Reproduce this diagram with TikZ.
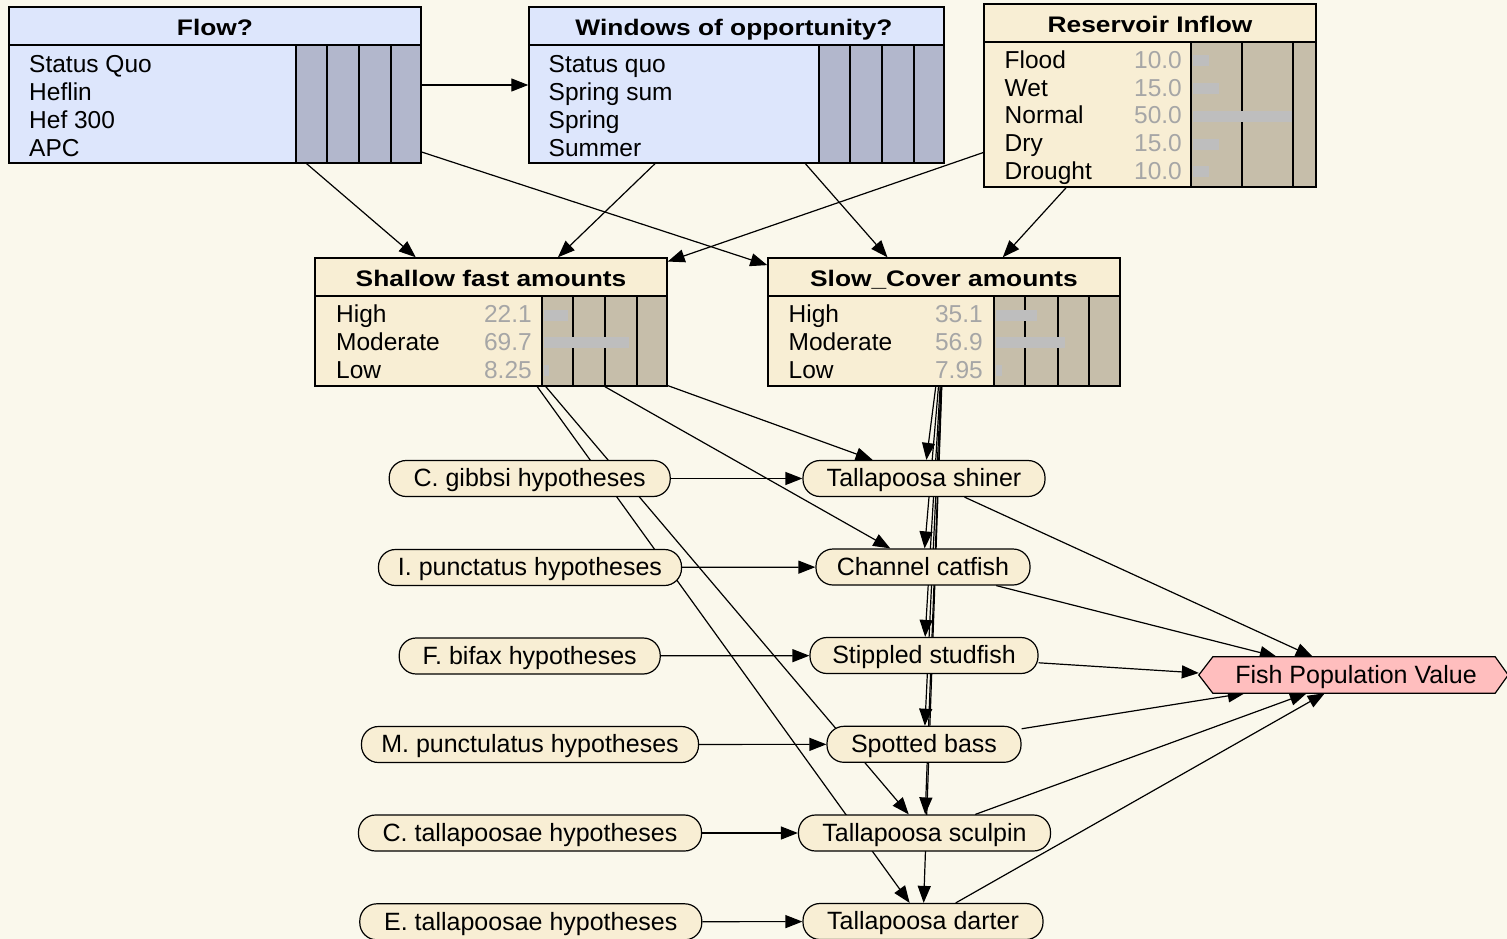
\documentclass[tikz,border=0pt]{standalone}
\usepackage{fontspec}
\setmainfont{Liberation Sans}
\newfontfamily\ttlfont[FakeStretch=1.17]{Liberation Sans}
\usetikzlibrary{arrows.meta,fit,backgrounds,calc}

\definecolor{bgc}{RGB}{250,248,236}
\definecolor{bluefill}{RGB}{221,230,252}
\definecolor{bluebar}{RGB}{178,183,204}
\definecolor{creamfill}{RGB}{248,238,212}
\definecolor{tanbar}{RGB}{198,190,170}
\definecolor{barc}{RGB}{190,190,190}
\definecolor{valc}{RGB}{166,166,166}
\definecolor{pinkfill}{RGB}{255,190,190}

% probability box: name, x1, y1, x2, y2, title rule y, bar area x, fill, bar fill
\newcommand\probbox[9]{%
  \node[boxnode, fill=#8, fit={(#2,#3) (#4,#5)}] (#1) {};
  \fill[#9] (#7,#6) rectangle (#4,#5);
  \draw[rule] (#2,#6) -- (#4,#6);
  \draw[rule] (#7,#6) -- (#7,#5);
  \draw[boxline] (#2,#3) rectangle (#4,#5);
}

\begin{document}
\begin{tikzpicture}[x=1pt,y=-1pt,
  boxnode/.style={draw, line width=1.4pt, inner sep=0pt, rectangle},
  boxline/.style={draw, line width=1.4pt},
  rule/.style={line width=1.2pt},
  lbl/.style={anchor=base west, inner sep=0pt, font=\fontsize{24.5}{28}\selectfont},
  val/.style={anchor=base east, inner sep=0pt, text=valc, font=\fontsize{24.5}{28}\selectfont},
  ttl/.style={anchor=base, inner sep=0pt, font=\ttlfont\bfseries\fontsize{22.5}{26}\selectfont},
  pill/.style={draw, line width=1.2pt, fill=creamfill, rounded corners=17pt,
    minimum height=36pt, inner sep=0pt, text height=18pt, text depth=1.4pt,
    font=\fontsize{25}{28}\selectfont},
  link/.style={draw, line width=1.2pt, -{Triangle[length=17pt,width=13pt]}},
  bar/.style={fill=barc}]

\begin{scope}[on background layer]
  \fill[bgc] (0,0) rectangle (1507,939);
\end{scope}
\useasboundingbox (0,0) rectangle (1507,939);

% ---------- decision boxes ----------
\probbox{flow}{9}{7}{421}{163}{45}{296}{bluefill}{bluebar}
\foreach \gx in {327,359,391} \draw[rule] (\gx,45) -- (\gx,163);
\node[ttl] (flowt) at (215,36) {Flow?};
\foreach \t [count=\i] in {Status Quo,Heflin,Hef 300,APC}
  \node[lbl] (flowl\i) at (29,{72.7+27.8*(\i-1)}) {\t};

\probbox{win}{529}{7}{944}{163}{45}{819}{bluefill}{bluebar}
\foreach \gx in {850,882,914} \draw[rule] (\gx,45) -- (\gx,163);
\node[ttl] (wint) at (734,36) {Windows of opportunity?};
\foreach \t [count=\i] in {Status quo,Spring sum,Spring,Summer}
  \node[lbl] (winl\i) at (548.5,{72.7+27.8*(\i-1)}) {\t};

% ---------- chance boxes ----------
\probbox{res}{984}{4}{1316}{187}{42}{1191}{creamfill}{tanbar}
\foreach \gx in {1242,1293} \draw[rule] (\gx,42) -- (\gx,187);
\node[ttl] (rest) at (1150,32.3) {Reservoir Inflow};
\foreach \t/\v/\e [count=\i] in {Flood/10.0/1209,Wet/15.0/1219,Normal/50.0/1292,Dry/15.0/1219,Drought/10.0/1209}{
  \fill[bar] (1193,{68.3+27.75*(\i-1)-13}) rectangle (\e,{68.3+27.75*(\i-1)-2});
  \node[lbl] (resl\i) at (1004.5,{68.3+27.75*(\i-1)}) {\t};
  \node[val] (resv\i) at (1182,{68.3+27.75*(\i-1)}) {\v};
}

\probbox{shal}{315}{258}{667}{386}{296}{542}{creamfill}{tanbar}
\foreach \gx in {573,605,637} \draw[rule] (\gx,296) -- (\gx,386);
\node[ttl] (shalt) at (491,286) {Shallow fast amounts};
\foreach \t/\v/\e [count=\i] in {High/22.1/568,Moderate/69.7/629,Low/8.25/549}{
  \fill[bar] (543.5,{322.7+27.7*(\i-1)-13}) rectangle (\e,{322.7+27.7*(\i-1)-2});
  \node[lbl] (shall\i) at (336,{322.7+27.7*(\i-1)}) {\t};
  \node[val] (shalv\i) at (532,{322.7+27.7*(\i-1)}) {\v};
}

\probbox{slow}{768}{258}{1120}{386}{296}{994}{creamfill}{tanbar}
\foreach \gx in {1025,1058,1089} \draw[rule] (\gx,296) -- (\gx,386);
\node[ttl] (slowt) at (944,286) {Slow\_Cover amounts};
\foreach \t/\v/\e [count=\i] in {High/35.1/1037,Moderate/56.9/1065,Low/7.95/1002}{
  \fill[bar] (996,{322.7+27.7*(\i-1)-13}) rectangle (\e,{322.7+27.7*(\i-1)-2});
  \node[lbl] (slowl\i) at (788.5,{322.7+27.7*(\i-1)}) {\t};
  \node[val] (slowv\i) at (983,{322.7+27.7*(\i-1)}) {\v};
}

% ---------- hypotheses ----------
\node[pill, minimum width=281pt] (hgib) at (529.7,478.5) {C. gibbsi hypotheses};
\node[pill, minimum width=303pt] (hpun) at (530,567.5) {I. punctatus hypotheses};
\node[pill, minimum width=261pt] (hbif) at (529.7,656) {F. bifax hypotheses};
\node[pill, minimum width=337pt] (hmpu) at (530,744.5) {M. punctulatus hypotheses};
\node[pill, minimum width=343pt] (hcta) at (530,833) {C. tallapoosae hypotheses};
\node[pill, minimum width=342pt] (heta) at (530.8,921.8) {E. tallapoosae hypotheses};

% ---------- species ----------
\node[pill, minimum width=242pt] (shiner) at (924,478.5) {Tallapoosa shiner};
\node[pill, minimum width=214pt] (catfish) at (923,567) {Channel catfish};
\node[pill, minimum width=228pt] (stippled) at (924,655.5) {Stippled studfish};
\node[pill, minimum width=194pt] (spotted) at (924,744.3) {Spotted bass};
\node[pill, minimum width=252pt] (sculpin) at (924.5,833) {Tallapoosa sculpin};
\node[pill, minimum width=240pt] (darter) at (923,921.5) {Tallapoosa darter};

% ---------- value node ----------
\node[minimum width=282pt, minimum height=36pt, inner sep=0pt] (fpv) at (1354,675) {};
\draw[line width=1.2pt, fill=pinkfill]
  (fpv.north west) -- (fpv.north east) -- ($(fpv.east)+(13,0)$) --
  (fpv.south east) -- (fpv.south west) -- ($(fpv.west)+(-14,0)$) -- cycle;
\node[inner sep=0pt, text height=18pt, text depth=1.4pt,
      font=\fontsize{25}{28}\selectfont] (fpvt) at (1356,675) {Fish Population Value};

% ---------- connectors ----------
\begin{scope}[on background layer]
  \draw[link] (flow) -- (win);
  \draw[link] (flow) -- (shal);
  \draw[link] (flow) -- (slow);
  \draw[link] (win) -- (shal);
  \draw[link] (win) -- (slow);
  \draw[link] (res) -- (shal);
  \draw[link] (res) -- (slow);
  \foreach \s in {shiner,catfish,sculpin,darter} \draw[link] (shal) -- (\s);
  \foreach \s in {shiner,catfish,stippled,spotted,sculpin,darter} \draw[link] (slow) -- (\s);
  \draw[link] (hgib) -- (shiner);
  \draw[link] (hpun) -- (catfish);
  \draw[link] (hbif) -- (stippled);
  \draw[link] (hmpu) -- (spotted);
  \draw[link] (hcta) -- (sculpin);
  \draw[link] (heta) -- (darter);
  \draw[link] (shiner) -- ([xshift=100pt]fpv.north west);
  \draw[link] (catfish) -- ([xshift=64pt]fpv.north west);
  \draw[link] (stippled) -- ([xshift=-14pt,yshift=2pt]fpv.west);
  \draw[link] (spotted) -- ([xshift=32pt]fpv.south west);
  \draw[link] (sculpin) -- ([xshift=94pt]fpv.south west);
  \draw[link] (darter) -- ([xshift=112pt]fpv.south west);
\end{scope}
\end{tikzpicture}
\end{document}
